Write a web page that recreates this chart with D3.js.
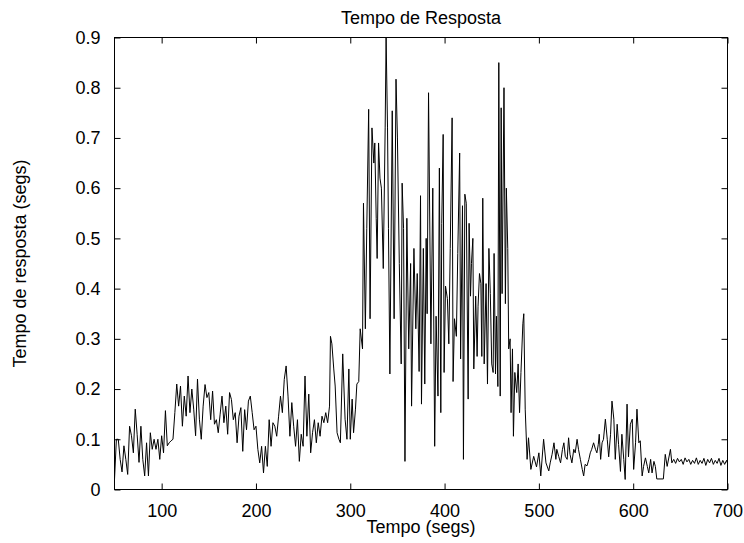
<!doctype html>
<html lang="pt">
<head>
<meta charset="utf-8">
<style>
  body{margin:0;background:#fff;}
  svg text{font-family:"Liberation Sans",Arial,Helvetica,sans-serif;font-size:18px;fill:#000;}
  .tick line{stroke:#000;}
</style>
</head>
<body>
<div id="grafico"></div>
<script src="https://d3js.org/d3.v7.min.js"></script>
<script>

// tempo (segs) de cada medida
var tempos = [
  50,52,54,56,58,60,62,64,66,68,
  70,72,74,76,78,80,82,84,86,88,
  90,92,94,96,98,100,102,104,106,108,
  110,112,114,116,118,120,122,124,126,128,
  130,132,134,136,138,140,142,144,146,148,
  150,152,154,156,158,160,162,164,166,168,
  170,172,174,176,178,180,182,184,186,188,
  190,192,194,196,198,200,202,204,206,208,
  210,212,214,216,218,220,222,224,226,228,
  230,232,234,236,238,240,242,244,246,248,
  250,252,254,256,258,260,262,264,266,268,
  270,272,274,276,278,
  279,280.5,282.5,284,286,288,289.5,292,294.5,296.5,
  298.5,300,302,303.5,305.5,307,309,310.5,313,314,
  316,317.5,319.5,321,323,325,326,327.5,328.5,330,
  331.5,333,335,337,338,339.5,340.5,342,344.5,346.5,
  348.5,350,352,354,355,356.5,358,360,362,364,
  365,367.5,369.5,371,373,374.5,375.5,377.5,379,380.5,
  381.5,383,385.5,387.5,389.5,391,393,394.5,396,397,
  398.5,399.5,401,403,404.5,406,408,409,410.5,412.5,
  414,416,417,419,420,421.5,423,425,426,427.5,
  428.5,430,431,433,434.5,435.5,437,438.5,439.5,440.5,
  442,444,445.5,447,448.5,450,451.5,452.5,454,455,
  456.5,457.5,459,460,461,463,464.5,465.5,467,468,
  469.5,470.5,472,473,474.5,476.5,478,479.5,481,483,
  484,485.5,487.5,489,491.5,494.5,497.5,500,502,505,
  507.5,510.5,512,514,516,518,519,521,523,525,
  526.5,528,530,531.5,533,535,537,538.5,540.5,542,
  544,546,547.5,549,551,553,554.5,556,558,560,
  561.5,563,564,565.5,567,568.5,570.5,572.5,574,576,
  577.5,579.5,581,583,584.5,586.5,588,590,591.5,593.5,
  595,597,599,600.5,602.5,604,606,607.5,609.5,611,
  613,615,616.5,618.5,620,622,623.5,625,632,634,
  636,639.5,641,643,645,647,649,651,653,655,
  657,659,661,663,665,667,669,671,673,675,
  677,679,681,683,685,687,689,691,693,695,
  697,699,700
];

// tempo de resposta (segs)
var respostas = [
  0.02,0.10,0.10,0.06,0.035,0.087,0.06,0.03,0.126,0.107,
  0.073,0.16,0.11,0.054,0.126,0.06,0.027,0.093,0.027,0.113,
  0.08,0.10,0.08,0.10,0.06,0.107,0.073,0.157,0.087,0.093,
  0.097,0.10,0.153,0.21,0.166,0.206,0.126,0.186,0.146,0.226,
  0.153,0.20,0.16,0.107,0.22,0.14,0.10,0.166,0.209,0.183,
  0.193,0.139,0.196,0.13,0.139,0.113,0.15,0.186,0.133,0.166,
  0.11,0.193,0.179,0.139,0.153,0.093,0.146,0.163,0.076,0.159,
  0.119,0.176,0.186,0.153,0.119,0.126,0.08,0.053,0.086,0.033,
  0.086,0.046,0.139,0.086,0.133,0.126,0.106,0.146,0.186,0.153,
  0.219,0.246,0.186,0.106,0.173,0.126,0.086,0.139,0.056,0.11,
  0.086,0.226,0.106,0.19,0.073,0.113,0.139,0.093,0.133,0.106,
  0.146,0.133,0.153,0.133,0.166,
  0.305,0.29,0.24,0.206,0.113,0.10,0.093,0.27,0.14,0.10,
  0.24,0.10,0.18,0.113,0.16,0.21,0.215,0.32,0.28,0.57,
  0.32,0.52,0.757,0.34,0.72,0.65,0.69,0.54,0.46,0.69,
  0.62,0.60,0.44,0.72,0.9,0.72,0.52,0.23,0.754,0.34,
  0.817,0.70,0.45,0.25,0.61,0.52,0.056,0.54,0.28,0.45,
  0.166,0.48,0.32,0.43,0.235,0.585,0.17,0.48,0.21,0.5,
  0.35,0.79,0.29,0.60,0.086,0.345,0.186,0.64,0.153,0.53,
  0.707,0.233,0.405,0.38,0.29,0.48,0.74,0.215,0.34,0.305,
  0.47,0.67,0.26,0.565,0.06,0.588,0.57,0.18,0.53,0.385,
  0.45,0.5,0.24,0.385,0.265,0.365,0.43,0.41,0.265,0.58,
  0.25,0.41,0.21,0.48,0.39,0.25,0.233,0.47,0.23,0.345,
  0.205,0.85,0.186,0.76,0.39,0.80,0.37,0.60,0.48,0.28,
  0.30,0.153,0.28,0.106,0.233,0.193,0.25,0.153,0.233,0.33,
  0.35,0.16,0.06,0.103,0.04,0.066,0.045,0.073,0.027,0.1,
  0.053,0.037,0.053,0.07,0.093,0.06,0.08,0.066,0.053,0.08,
  0.093,0.066,0.06,0.103,0.07,0.053,0.08,0.073,0.1,0.08,
  0.06,0.04,0.027,0.05,0.047,0.06,0.073,0.08,0.093,0.08,
  0.073,0.09,0.11,0.06,0.093,0.10,0.14,0.10,0.065,0.11,
  0.176,0.14,0.06,0.13,0.09,0.036,0.11,0.06,0.02,0.17,
  0.065,0.13,0.14,0.04,0.093,0.16,0.093,0.097,0.027,0.046,
  0.063,0.046,0.033,0.06,0.033,0.056,0.046,0.021,0.021,0.07,
  0.046,0.08,0.053,0.06,0.052,0.062,0.055,0.06,0.05,0.063,
  0.055,0.06,0.05,0.058,0.052,0.063,0.05,0.058,0.052,0.062,
  0.048,0.06,0.053,0.062,0.05,0.058,0.052,0.062,0.048,0.058,
  0.05,0.058,0.052
];

var xTicks = [100,200,300,400,500,600,700];
var xTickLabels = ["100","200","300","400","500","600","700"];
var yTicks = [0,0.1,0.2,0.3,0.4,0.5,0.6,0.7,0.8,0.9];
var yTickLabels = ["0","0.1","0.2","0.3","0.4","0.5","0.6","0.7","0.8","0.9"];

console.log(tempos.length, respostas.length);

var largura = 744, altura = 543;
var esq = 114.5, dir = 727.5, topo = 37.5, base = 489.5;

var svg = d3.select("#grafico").append("svg")
  .attr("width", largura).attr("height", altura)
  .style("display","block").style("background","#fff");

var x = d3.scaleLinear().domain([50, 700]).range([esq, dir]);
var y = d3.scaleLinear().domain([0, 0.9]).range([base, topo]);

// eixos com marcas para dentro, como no gnuplot
svg.append("g").attr("transform","translate(0," + base + ")")
  .call(d3.axisBottom(x).tickValues(xTicks).tickFormat(function(d,i){return xTickLabels[i]})
    .tickSizeInner(-6).tickSizeOuter(0).tickPadding(15))
  .call(function(g){ g.select(".domain").remove(); });

svg.append("g").attr("transform","translate(0," + topo + ")")
  .call(d3.axisTop(x).tickValues(xTicks).tickFormat("").tickSizeInner(-6).tickSizeOuter(0))
  .call(function(g){ g.select(".domain").remove(); });

svg.append("g").attr("transform","translate(" + esq + ",0)")
  .call(d3.axisLeft(y).tickValues(yTicks).tickFormat(function(d,i){return yTickLabels[i]})
    .tickSizeInner(-6).tickSizeOuter(0).tickPadding(14))
  .call(function(g){ g.select(".domain").remove(); });

svg.append("g").attr("transform","translate(" + dir + ",0)")
  .call(d3.axisRight(y).tickValues(yTicks).tickFormat("").tickSizeInner(-6).tickSizeOuter(0))
  .call(function(g){ g.select(".domain").remove(); });

svg.selectAll("g").attr("font-family", null).attr("font-size", null);

svg.append("rect").attr("x", esq).attr("y", topo).attr("width", dir - esq).attr("height", base - topo)
  .attr("fill","none").attr("stroke","#000").attr("stroke-width",1);

var linha = d3.line()
  .x(function(i){ return x(tempos[i]); })
  .y(function(i){ return y(respostas[i]); });

svg.append("path").datum(d3.range(tempos.length))
  .attr("d", linha).attr("fill","none").attr("stroke","#000").attr("stroke-width",1);

// textos
svg.append("text").attr("x", (esq + dir) / 2).attr("y", 24).attr("text-anchor","middle").text("Tempo de Resposta");
svg.append("text").attr("x", (esq + dir) / 2).attr("y", 533).attr("text-anchor","middle").text("Tempo (segs)");
svg.append("text").attr("transform","translate(26," + ((topo + base) / 2) + ") rotate(-90)")
  .attr("text-anchor","middle").text("Tempo de resposta (segs)");

</script>
</body>
</html>
